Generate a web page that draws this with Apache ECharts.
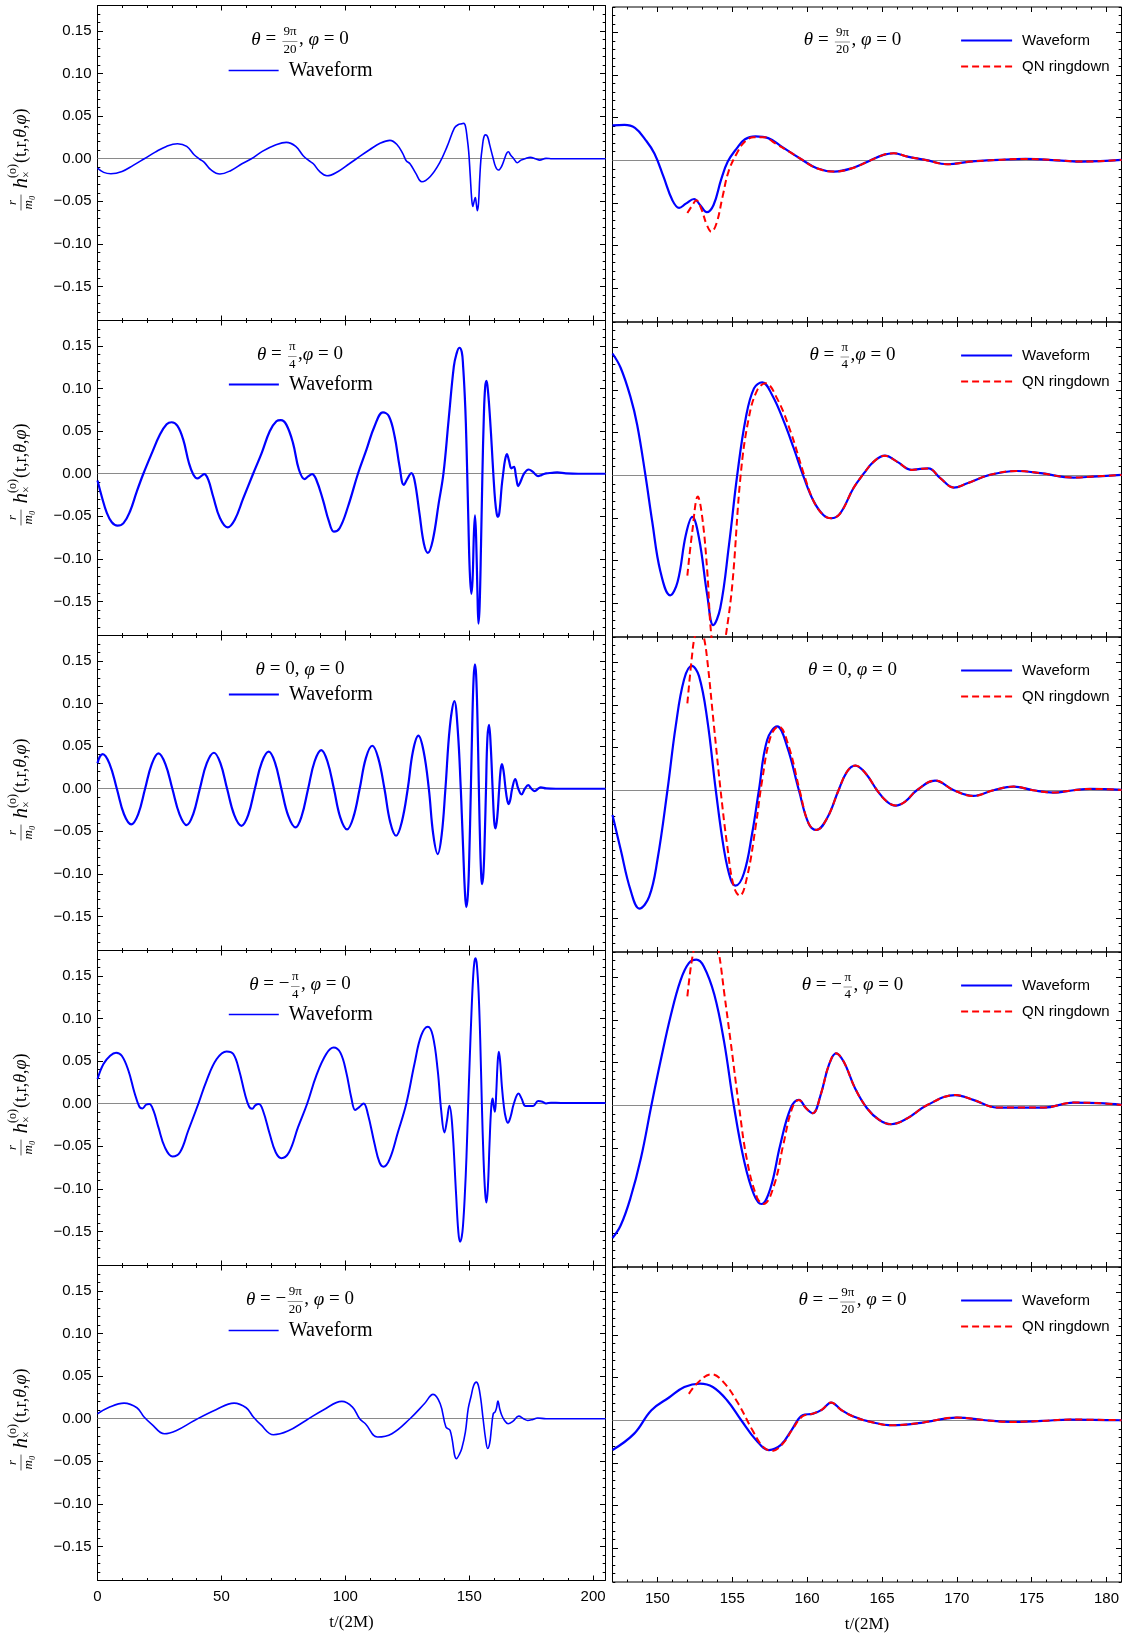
<!DOCTYPE html>
<html><head><meta charset="utf-8">
<script src="https://cdn.jsdelivr.net/npm/echarts@6/dist/echarts.min.js"></script>
<style>html,body{margin:0;padding:0;background:#fff}#c{width:1128px;height:1636px}</style>
</head><body><div id="c"></div>
<script>
// ---------- tick labels ----------
const xTicksLeft = [0, 50, 100, 150, 200];
const xTicksRight = [150, 155, 160, 165, 170, 175, 180];
const yTicks = [-0.15, -0.10, -0.05, 0, 0.05, 0.10, 0.15];

// ---------- panel titles ----------
const titles = [
  [['i','θ'],['r',' = '],['f','9π','20'],['r',', '],['i','φ'],['r',' = 0']],
  [['i','θ'],['r',' = '],['f','π','4'],['r',','],['i','φ'],['r',' = 0']],
  [['i','θ'],['r',' = 0, '],['i','φ'],['r',' = 0']],
  [['i','θ'],['r',' = −'],['f','π','4'],['r',', '],['i','φ'],['r',' = 0']],
  [['i','θ'],['r',' = −'],['f','9π','20'],['r',', '],['i','φ'],['r',' = 0']]
];

// ---------- waveform near merger (t from 147 to 181) ----------
const wave1 = [[147.0,0.041],[147.8,0.0416],[148.5,0.038],[149.2,0.024],[149.8,0.008],[150.4,-0.019],[151.0,-0.047],[151.45,-0.056],[151.9,-0.051],[152.45,-0.0455],[152.85,-0.0525],[153.3,-0.061],[153.75,-0.0525],[154.25,-0.023],[154.7,-0.0016],[155.3,0.014],[155.85,0.0247],[156.55,0.028],[157.4,0.026],[158.3,0.016],[159.5,0.0024],[160.65,-0.0094],[161.8,-0.0133],[163.0,-0.0094],[164.15,-0.0008],[165.1,0.0063],[165.8,0.0082],[166.7,0.0043],[167.9,0.0004],[169.4,-0.0047],[170.9,-0.0016],[172.8,0.0004],[174.6,0.0016],[177.0,-0.0004],[178.4,-0.0016],[181.0,0.0004]];
const wave2 = [[147.0,0.143],[147.55,0.126],[148.2,0.092],[148.65,0.059],[149.2,0],[149.65,-0.054],[150.2,-0.113],[150.85,-0.141],[151.35,-0.125],[151.9,-0.070],[152.33,-0.049],[152.78,-0.074],[153.33,-0.141],[153.73,-0.176],[154.2,-0.156],[154.78,-0.082],[155.33,0],[155.9,0.067],[156.45,0.102],[157.0,0.109],[157.67,0.094],[158.45,0.063],[159.1,0.032],[159.8,-0.0035],[160.45,-0.031],[161.1,-0.047],[161.6,-0.0505],[162.2,-0.045],[163.1,-0.015],[163.8,0.0024],[164.45,0.016],[165.2,0.023],[166.0,0.016],[167.0,0.0063],[167.55,0.0074],[168.1,0.008],[168.9,-0.0035],[169.8,-0.0145],[170.7,-0.0094],[172.2,0.0004],[174.0,0.005],[175.6,0.0024],[177.8,-0.0027],[179.1,-0.0016],[181.0,0.0004]];
const wave3 = [[147.0,-0.029],[147.55,-0.070],[148.2,-0.117],[148.8,-0.139],[149.45,-0.125],[150.0,-0.082],[150.67,0],[151.22,0.075],[151.78,0.130],[152.3,0.146],[152.78,0.134],[153.33,0.083],[153.9,0],[154.45,-0.070],[154.9,-0.105],[155.22,-0.112],[155.78,-0.0975],[156.33,-0.0505],[156.78,0],[157.33,0.059],[158.0,0.075],[158.67,0.051],[159.45,0],[160.1,-0.039],[160.62,-0.0466],[161.33,-0.033],[162.1,0],[162.67,0.022],[163.22,0.029],[163.9,0.020],[164.67,0],[165.33,-0.0133],[165.9,-0.018],[166.55,-0.0133],[167.33,0],[168.55,0.0114],[169.8,0],[171.1,-0.0067],[172.45,0],[173.8,0.0043],[175.1,0],[176.45,-0.0027],[177.8,0],[178.9,0.0016],[181.0,0.0004]];
const wave4 = [[147.0,-0.156],[147.55,-0.141],[148.2,-0.109],[148.9,-0.062],[149.6,0],[150.2,0.051],[150.9,0.106],[151.55,0.147],[152.1,0.167],[152.6,0.171],[153.1,0.163],[153.8,0.130],[154.45,0.075],[155.1,0],[155.8,-0.066],[156.45,-0.105],[156.95,-0.116],[157.55,-0.0975],[158.2,-0.047],[158.9,-0.0035],[159.45,0.0063],[159.93,-0.0035],[160.38,-0.0094],[160.9,0.012],[161.45,0.047],[161.93,0.061],[162.45,0.051],[163.2,0.020],[164.0,-0.0035],[164.8,-0.017],[165.6,-0.0223],[166.7,-0.0153],[168.0,0],[169.9,0.012],[171.1,0.0063],[172.7,-0.0027],[174.2,-0.0027],[175.8,-0.0027],[177.8,0.0031],[179.55,0.0024],[181.0,0.0004]];
const wave5 = [[147.0,-0.035],[148.45,-0.0157],[149.6,0.0118],[150.8,0.027],[151.8,0.039],[152.85,0.043],[153.7,0.039],[154.65,0.0235],[155.6,0],[156.6,-0.0235],[157.45,-0.035],[158.25,-0.029],[158.95,-0.0118],[159.7,0.0059],[160.4,0.0078],[161.0,0.0125],[161.6,0.0208],[162.3,0.0118],[163.05,0.0047],[164.25,-0.002],[165.7,-0.0059],[167.6,-0.0031],[170.0,0.0031],[171.9,0],[173.6,-0.002],[175.7,-0.0008],[177.6,0.0008],[181.0,0]];

// ---------- QN ringdown fit, early part (afterwards it coincides with the waveform) ----------
const qnEarly1 = [[152.0,-0.062],[152.35,-0.0525],[152.6,-0.047],[152.95,-0.058],[153.3,-0.076],[153.6,-0.084],[153.95,-0.074],[154.35,-0.043],[154.75,-0.0133],[155.3,0.008],[155.85,0.022],[156.45,0.027],[157.15,0.027],[157.85,0.020],[158.8,0.010]];
const qnEarly2 = [[152.0,-0.118],[152.33,-0.066],[152.7,-0.025],[153.0,-0.05],[153.33,-0.113],[153.6,-0.188],[154.08,-0.245],[154.56,-0.19],[155.0,-0.129],[155.56,0],[156.1,0.067],[156.67,0.100],[157.22,0.108],[158.0,0.090],[158.9,0.051],[159.8,0.0004]];
const qnEarly3 = [[152.0,0.102],[152.33,0.161],[152.49,0.18],[152.8,0.197],[153.1,0.18],[153.33,0.153],[153.78,0.075],[154.22,0],[154.67,-0.066],[155.1,-0.113],[155.5,-0.124],[156.0,-0.101],[156.56,-0.043],[157.0,0.012],[157.56,0.063],[158.1,0.075],[158.78,0.051],[159.5,0]];
const qnEarly4 = [[152.0,0.128],[152.22,0.161],[152.4,0.18],[152.8,0.215],[153.25,0.232],[153.7,0.215],[154.1,0.18],[154.5,0.127],[154.89,0.075],[155.44,0],[156.0,-0.066],[156.67,-0.109],[157.1,-0.116],[157.8,-0.0936],[158.4,-0.047],[159.0,-0.0035]];
const qnEarly5 = [[152.1,0.031],[152.75,0.045],[153.6,0.054],[154.4,0.045],[155.4,0.0196],[156.35,-0.0118],[157.05,-0.031],[157.65,-0.036],[158.4,-0.027],[159.05,-0.0098],[159.7,0.0047]];

// ---------- inspiral part (t from 0 to 147) ----------
const early1 = [[0,-0.011],[2.5,-0.016],[5.4,-0.0176],[9.9,-0.0149],[14.4,-0.0078],[18.9,0],[23.3,0.0078],[27.8,0.0145],[32.3,0.0176],[36.0,0.0145],[39.0,0.0047],[41.2,-0.0004],[43.1,-0.0043],[45.7,-0.0129],[49.4,-0.018],[53.9,-0.0137],[58.3,-0.0059],[62.1,0],[66.5,0.0086],[71.8,0.016],[76.2,0.0192],[80.0,0.0145],[83.0,0.0035],[85.2,-0.002],[87.1,-0.0059],[89.6,-0.0149],[92.6,-0.020],[97.1,-0.0149],[101.6,-0.0059],[104.5,0],[109.8,0.0106],[114.2,0.0184],[118.0,0.0216],[120.9,0.0165],[123.2,0.0059],[124.6,-0.0024],[126.1,-0.0059],[128.4,-0.0169],[130.9,-0.027],[134.3,-0.0208],[138.0,-0.0051],[141.1,0.0145],[144.0,0.036],[145.5,0.040]];
const early2 = [[0,-0.008],[1.74,-0.027],[3.76,-0.046],[5.77,-0.057],[8.05,-0.061],[10.5,-0.058],[13.15,-0.044],[15.84,-0.021],[18.5,0],[21.9,0.024],[25.2,0.046],[27.9,0.058],[29.9,0.0605],[32.2,0.0565],[34.6,0.040],[36.9,0.0126],[38.7,-0.0012],[40.3,-0.0055],[41.7,-0.0031],[43.1,-0.0004],[44.7,-0.007],[46.7,-0.027],[49.4,-0.052],[52.5,-0.063],[55.4,-0.054],[58.8,-0.029],[62.8,0],[66.2,0.024],[69.5,0.050],[72.2,0.0616],[74.0,0.063],[76.2,0.0577],[78.9,0.036],[81.3,0.0047],[83.6,-0.0063],[85.0,-0.0031],[86.6,-0.0004],[88.3,-0.007],[91.0,-0.031],[93.4,-0.056],[95.4,-0.068],[97.7,-0.064],[101.1,-0.0385],[105.1,0],[108.5,0.028],[111.8,0.0558],[115.2,0.072],[117.6,0.0675],[119.9,0.044],[121.9,0.0086],[123.6,-0.013],[125.2,-0.0051],[126.6,0.0008],[127.9,-0.007],[129.9,-0.046],[131.7,-0.082],[133.3,-0.093],[135.3,-0.078],[137.7,-0.0345],[139.6,0],[141.7,0.0636],[143.8,0.126],[144.8,0.140],[146.0,0.148]];
const early3 = [[0,0.030],[1.0,0.038],[2.1,0.0407],[4.9,0.029],[7.8,0],[10.7,-0.030],[13.6,-0.0419],[16.4,-0.030],[19.2,0],[21.9,0.029],[24.6,0.0415],[27.4,0.029],[30.2,0],[33.1,-0.030],[36.0,-0.0427],[38.6,-0.030],[41.3,0],[44.1,0.030],[47.0,0.0423],[49.6,0.030],[52.3,0],[55.2,-0.031],[58.1,-0.0435],[60.8,-0.031],[63.5,0],[66.3,0.031],[69.1,0.0435],[71.6,0.031],[74.2,0],[77.0,-0.032],[79.9,-0.0454],[82.4,-0.032],[85.0,0],[87.6,0.032],[90.3,0.0454],[92.8,0.032],[95.4,0],[98.0,-0.034],[100.7,-0.0478],[103.2,-0.034],[105.8,0],[108.3,0.036],[110.9,0.0505],[113.3,0.036],[115.8,0],[118.1,-0.039],[120.5,-0.0552],[122.8,-0.039],[125.2,0],[127.3,0.044],[129.5,0.0623],[131.6,0.044],[133.7,0],[135.5,-0.054],[137.3,-0.0768],[138.9,-0.054],[140.4,0],[142.2,0.073],[144.0,0.103],[145.4,0.068],[146.6,0]];
const early4 = [[0,0.029],[2.4,0.0466],[5.1,0.0564],[7.5,0.060],[9.8,0.0564],[12.5,0.0388],[14.9,0.0133],[16.9,-0.0035],[18.1,-0.0055],[19.6,-0.0012],[20.9,-0.0004],[22.6,-0.0082],[24.6,-0.0278],[27.2,-0.0513],[30.3,-0.062],[33.3,-0.057],[36.6,-0.0317],[40.7,0],[44.0,0.027],[48.1,0.0525],[52.1,0.0615],[54.8,0.0584],[57.2,0.0388],[59.5,0.0114],[61.2,-0.0035],[62.4,-0.0059],[63.8,-0.0016],[65.1,-0.0004],[66.8,-0.0082],[69.5,-0.0356],[71.9,-0.057],[74.2,-0.064],[77.3,-0.057],[80.9,-0.0278],[84.6,0],[88.3,0.033],[92.3,0.0584],[95.3,0.066],[98.0,0.060],[100.4,0.0368],[102.4,0.0074],[104.0,-0.0074],[105.5,-0.0043],[107.4,0.0004],[109.1,-0.012],[111.8,-0.047],[113.8,-0.069],[115.4,-0.074],[117.9,-0.065],[121.2,-0.0337],[124.6,0],[127.9,0.0466],[130.6,0.080],[133.3,0.0905],[135.3,0.080],[137.3,0.0388],[138.7,-0.0082],[140.0,-0.0337],[141.0,-0.020],[142.0,-0.0024],[143.1,-0.024],[144.7,-0.106],[145.6,-0.150],[146.3,-0.162]];
const early5 = [[0,0.0059],[4.3,0.0129],[10.7,0.0184],[15.9,0.0129],[18.8,0.002],[21.7,-0.0059],[27.0,-0.0176],[31.9,-0.0137],[39.1,-0.002],[47.8,0.0106],[55.1,0.0184],[60.0,0.0129],[62.9,0.002],[65.8,-0.0067],[71.0,-0.0188],[76.8,-0.0145],[84.1,-0.002],[91.3,0.0106],[98.6,0.0204],[102.9,0.0137],[105.8,0],[108.1,-0.0059],[113.0,-0.0215],[118.8,-0.0176],[126.1,0],[131.9,0.0176],[135.4,0.0286],[138.3,0.0176],[140.6,-0.0098],[142.3,-0.0137],[144.9,-0.047],[146.0,-0.042]];

// ---------- late tail (t from 181 to 205) ----------
const tail1 = [[183.5,0],[205,0]];
const tail2 = [[183.5,0.001],[185.5,0.0015],[189,0.0005],[194,0],[205,0]];
const tail3 = [[185,0],[205,0]];
const tail4 = [[183,0.0012],[187,0.001],[205,0.001]];
const tail5 = [[184,0],[205,0]];

const waves = [wave1, wave2, wave3, wave4, wave5];
const qnEarly = [qnEarly1, qnEarly2, qnEarly3, qnEarly4, qnEarly5];
const earlies = [early1, early2, early3, early4, early5];
const tails = [tail1, tail2, tail3, tail4, tail5];

// ---------- layout ----------
const ROW_TOP0 = 5.5, ROW_H = 315;
const L_LEFT = 97.5, L_W = 508, R_LEFT = 612.5, R_W = 509, R_DY = 1.5;
const leftLineW = [1.6, 2.2, 2.2, 2.0, 1.6];
const leftLegendOff = [65, 64, 59, 64, 65];
const SANS = 'Liberation Sans', SERIF = 'Liberation Serif';
const BLUE = '#0000ff', RED = '#ff0000';
const SMOOTH = 0.4;

const fmt = v => (v < -1e-9 ? '\u2212' : '') + Math.abs(v).toFixed(2);

const mctx = document.createElement('canvas').getContext('2d');
function tw(str, size, italic) {
  mctx.font = (italic ? 'italic ' : '') + size + 'px "' + SERIF + '"';
  return mctx.measureText(str).width;
}
function txtStyle(text, size, italic, align) {
  const font = (italic ? 'italic ' : '') + size + 'px "' + SERIF + '"';
  return {text: text, font: font, fill: '#000', align: align, verticalAlign: 'middle',
          textAlign: align, textVerticalAlign: 'middle'};
}
function titleEls(pieces, cx, cy) {
  const MAIN = 19, FR = 13;
  const items = []; let total = 0;
  pieces.forEach(p => {
    let w;
    if (p[0] === 'f') w = Math.max(tw(p[1], FR, false), tw(p[2], FR, false)) + 5;
    else w = tw(p[1], MAIN, p[0] === 'i');
    items.push({p: p, w: w}); total += w;
  });
  let x = cx - total / 2; const els = [];
  items.forEach(({p, w}) => {
    if (p[0] === 'f') {
      const mx = x + w / 2;
      els.push({type: 'text', x: mx, y: cy - 7.5, silent: true, style: txtStyle(p[1], FR, false, 'center')});
      els.push({type: 'text', x: mx, y: cy + 10, silent: true, style: txtStyle(p[2], FR, false, 'center')});
      els.push({type: 'line', silent: true, shape: {x1: x + 1.5, y1: cy + 2, x2: x + w - 1.5, y2: cy + 2}, style: {stroke: '#666', lineWidth: 0.7}});
    } else {
      els.push({type: 'text', x: x, y: cy, silent: true, style: txtStyle(p[1], MAIN, p[0] === 'i', 'left')});
    }
    x += w;
  });
  return els;
}
// rotated y-axis title: r/m0 h_x^(o)(t,r,θ,φ)
function yLabelEls(cx, cy) {
  const parts = [
    {k: 'f', n: 'r', d: 'm₀', s: 13},
    {k: 'g', w: 5},
    {k: 't', t: 'h', s: 21, it: true},
    {k: 'ss', up: '(o)', dn: '×', s: 12},
    {k: 't', t: '(t,r,', s: 18, it: false},
    {k: 't', t: 'θ', s: 18, it: true},
    {k: 't', t: ',', s: 18, it: false},
    {k: 't', t: 'φ', s: 18, it: true},
    {k: 't', t: ')', s: 18, it: false}
  ];
  let total = 0;
  parts.forEach(p => {
    if (p.k === 'f') p.w = Math.max(tw(p.n, p.s, true), tw(p.d, p.s, true)) + 4;
    else if (p.k === 'ss') p.w = Math.max(tw(p.up, p.s, false), tw(p.dn, p.s, false)) + 1;
    else if (p.k === 't') p.w = tw(p.t, p.s, p.it);
    total += p.w;
  });
  let x = -total / 2; const ch = [];
  parts.forEach(p => {
    if (p.k === 'f') {
      ch.push({type: 'text', x: x + p.w / 2, y: -8, silent: true, style: txtStyle(p.n, p.s, true, 'center')});
      ch.push({type: 'text', x: x + p.w / 2, y: 8, silent: true, style: txtStyle(p.d, p.s, true, 'center')});
      ch.push({type: 'line', silent: true, shape: {x1: x + 1, y1: 0, x2: x + p.w - 1, y2: 0}, style: {stroke: '#333', lineWidth: 0.8}});
    } else if (p.k === 'ss') {
      ch.push({type: 'text', x: x, y: -8, silent: true, style: txtStyle(p.up, p.s, false, 'left')});
      ch.push({type: 'text', x: x, y: 6, silent: true, style: txtStyle(p.dn, p.s, false, 'left')});
    } else if (p.k === 't') {
      ch.push({type: 'text', x: x, y: 0, silent: true, style: txtStyle(p.t, p.s, p.it, 'left')});
    }
    x += p.w;
  });
  return {type: 'group', x: cx, y: cy, rotation: Math.PI / 2, silent: true, children: ch};
}

const grid = [], xAxis = [], yAxis = [], series = [], legend = [], gEls = [];

for (let r = 0; r < 5; r++) {
  for (let c = 0; c < 2; c++) {
    const gi = grid.length;
    const top = ROW_TOP0 + r * ROW_H + (c ? R_DY : 0);
    grid.push({left: c ? R_LEFT : L_LEFT, top: top, width: c ? R_W : L_W, height: ROW_H,
      show: true, borderColor: '#000', borderWidth: 1, backgroundColor: 'transparent'});
    const xr = c ? [147, 181] : [0, 205];
    const xMaj = c ? xTicksRight : xTicksLeft;
    const bottomRow = r === 4;
    const xi = xAxis.length;
    ['bottom', 'top'].forEach(pos => {
      const lab = pos === 'bottom' && bottomRow;
      xAxis.push({gridIndex: gi, type: 'value', position: pos, min: xr[0], max: xr[1], interval: c ? 1 : 10,
        axisLine: {show: false, onZero: false}, splitLine: {show: false},
        axisTick: {show: true, inside: true, length: 5, customValues: xMaj, lineStyle: {color: '#000', width: 1}},
        axisLabel: {show: lab, customValues: xMaj, margin: 9, fontFamily: SANS, fontSize: 15, color: '#000'},
        name: lab ? 't/(2M)' : '', nameLocation: 'middle', nameGap: 34,
        nameTextStyle: {fontFamily: SERIF, fontSize: 17, color: '#000'}});
      xAxis.push({gridIndex: gi, type: 'value', position: pos, min: xr[0], max: xr[1], interval: c ? 1 : 10,
        axisLine: {show: false, onZero: false}, splitLine: {show: false},
        axisTick: {show: true, inside: true, length: 2.5, lineStyle: {color: '#000', width: 1}},
        axisLabel: {show: false}});
    });
    const yi = yAxis.length;
    ['left', 'right'].forEach(pos => {
      const lab = pos === 'left' && c === 0;
      yAxis.push({gridIndex: gi, type: 'value', position: pos, min: -0.19, max: 0.18, interval: 0.01,
        axisLine: {show: false, onZero: false}, splitLine: {show: false},
        axisTick: {show: true, inside: true, length: 5.5, customValues: yTicks, lineStyle: {color: '#000', width: 1}},
        axisLabel: {show: lab, customValues: yTicks, formatter: fmt, margin: 6, fontFamily: SANS, fontSize: 15, color: '#000'}});
      yAxis.push({gridIndex: gi, type: 'value', position: pos, min: -0.19, max: 0.18, interval: 0.01,
        axisLine: {show: false, onZero: false}, splitLine: {show: false},
        axisTick: {show: true, inside: true, length: 2.8, lineStyle: {color: '#000', width: 1}},
        axisLabel: {show: false}});
    });

    const zeroLine = {silent: true, symbol: 'none', z: 1, animation: false, label: {show: false},
      lineStyle: {color: '#8a8a8a', width: 1.2, type: 'solid'}, emphasis: {disabled: true}, data: [{yAxis: 0}]};

    if (c === 0) {
      const data = earlies[r].concat(waves[r]).concat(tails[r]);
      series.push({type: 'line', name: 'Waveform', xAxisIndex: xi, yAxisIndex: yi, data: data,
        symbol: 'none', smooth: SMOOTH, z: 3, silent: true, animation: false,
        lineStyle: {color: BLUE, width: leftLineW[r]}, itemStyle: {color: BLUE}, markLine: zeroLine});
      legend.push({left: 228, top: top + leftLegendOff[r] - 11, orient: 'horizontal', padding: 0,
        itemWidth: 50, itemHeight: 2, selectedMode: false,
        data: [{name: 'Waveform', lineStyle: {width: leftLineW[r] * 0.8}, itemStyle: {opacity: 0}}],
        textStyle: {fontFamily: SERIF, fontSize: 20, lineHeight: 22, color: '#000', padding: [0, 0, 0, 5]}});
      gEls.push(...titleEls(titles[r], L_LEFT + 202.5, top + 34));
      gEls.push(yLabelEls(21, top + ROW_H / 2 - 3));
    } else {
      const qe = qnEarly[r];
      const lastT = qe[qe.length - 1][0];
      const qn = qe.concat(waves[r].filter(p => p[0] > lastT));
      series.push({type: 'line', name: 'Waveform', xAxisIndex: xi, yAxisIndex: yi, data: waves[r],
        symbol: 'none', smooth: SMOOTH, z: 3, silent: true, animation: false,
        lineStyle: {color: BLUE, width: 2.2}, itemStyle: {color: BLUE}, markLine: zeroLine});
      series.push({type: 'line', name: 'QN ringdown', xAxisIndex: xi, yAxisIndex: yi, data: qn,
        symbol: 'none', smooth: SMOOTH, z: 4, silent: true, animation: false,
        lineStyle: {color: RED, width: 2, type: [7, 4]}, itemStyle: {color: RED}});
      legend.push({left: 960, top: top + 33.5 - 9, orient: 'vertical', padding: 0,
        itemWidth: 51, itemHeight: 2, itemGap: 8, selectedMode: false,
        data: [{name: 'Waveform', lineStyle: {width: 2.2}, itemStyle: {opacity: 0}},
               {name: 'QN ringdown', lineStyle: {width: 2, type: [7, 4]}, itemStyle: {opacity: 0}}],
        textStyle: {fontFamily: SANS, fontSize: 15, lineHeight: 18, color: '#000', padding: [0, 0, 0, 5]}});
      gEls.push(...titleEls(titles[r], R_LEFT + 240, top + 33));
    }
  }
}

const chart = echarts.init(document.getElementById('c'), null, {renderer: 'canvas'});
chart.setOption({
  backgroundColor: '#fff',
  animation: false,
  grid: grid, xAxis: xAxis, yAxis: yAxis, series: series, legend: legend,
  graphic: {elements: gEls}
});
</script></body></html>
